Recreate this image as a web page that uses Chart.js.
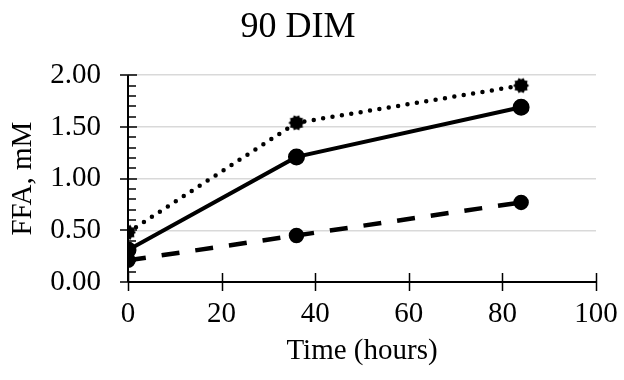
<!DOCTYPE html>
<html>
<head>
<meta charset="utf-8">
<script src="https://cdn.jsdelivr.net/npm/chart.js@4"></script>
<style>
  html, body { margin: 0; padding: 0; background: #fff; }
  #wrap { width: 624px; height: 380px; }
</style>
</head>
<body>
<div id="wrap"><canvas id="chart" width="624" height="380"></canvas></div>
<script>
const hours = [0, 36, 84];
const dottedSeries = [0.48, 1.54, 1.90];
const solidSeries = [0.31, 1.21, 1.69];
const dashedSeries = [0.21, 0.45, 0.77];
const xTicks = [0, 20, 40, 60, 80, 100];
const yTicks = [0, 0.5, 1.0, 1.5, 2.0];

const toPoints = vals => vals.map((v, i) => ({ x: hours[i], y: v }));

// star-burst marker used by the dotted series
function starMarker(r) {
  const size = r * 2 + 2;
  const c = document.createElement('canvas');
  c.width = size; c.height = size;
  const g = c.getContext('2d');
  const n = 10;
  g.beginPath();
  for (let i = 0; i < n * 2; i++) {
    const rad = i % 2 === 0 ? r : r * 0.78;
    const a = (Math.PI * i) / n;
    g.lineTo(size / 2 + rad * Math.cos(a), size / 2 + rad * Math.sin(a));
  }
  g.closePath();
  g.fillStyle = '#000';
  g.fill();
  return c;
}

// Excel style axes: cross major ticks, inside minor ticks on y
const axesPlugin = {
  id: 'axes',
  beforeDatasetsDraw(chart) {
    const { ctx, chartArea: a, scales: { x, y } } = chart;
    ctx.save();
    ctx.strokeStyle = '#000';
    ctx.lineWidth = 1.5;
    ctx.beginPath();
    for (const t of xTicks) {
      const px = Math.round(x.getPixelForValue(t)) + 0.5;
      ctx.moveTo(px, a.bottom - 9);
      ctx.lineTo(px, a.bottom + 9);
    }
    for (const t of yTicks) {
      const py = Math.round(y.getPixelForValue(t));
      ctx.moveTo(a.left - 8, py);
      ctx.lineTo(a.left + 9, py);
    }
    for (let i = 1; i < 20; i++) {
      if (i % 5 === 0) continue;
      const py = Math.round(y.getPixelForValue(i / 10));
      ctx.moveTo(a.left, py);
      ctx.lineTo(a.left + 8, py);
    }
    ctx.stroke();
    ctx.lineWidth = 2;
    ctx.beginPath();
    ctx.moveTo(a.left, a.bottom);
    ctx.lineTo(a.right, a.bottom);
    ctx.moveTo(a.left, a.top);
    ctx.lineTo(a.left, a.bottom);
    ctx.stroke();
    ctx.restore();
  }
};

Chart.defaults.font.family = "'Liberation Serif', 'Times New Roman', serif";
Chart.defaults.color = '#000';

new Chart(document.getElementById('chart'), {
  type: 'line',
  data: {
    datasets: [
      {
        data: toPoints(dashedSeries),
        borderColor: '#000',
        backgroundColor: '#000',
        borderWidth: 4.5,
        borderDash: [18, 16],
        pointRadius: 5.5,
        pointStyle: 'circle'
      },
      {
        data: toPoints(solidSeries),
        borderColor: '#000',
        backgroundColor: '#000',
        borderWidth: 4,
        pointRadius: 6.5,
        pointStyle: 'circle'
      },
      {
        data: toPoints(dottedSeries),
        borderColor: '#000',
        backgroundColor: '#000',
        borderWidth: 4.5,
        borderDash: [0, 9.5],
        borderCapStyle: 'round',
        pointStyle: starMarker(8)
      }
    ]
  },
  options: {
    responsive: false,
    animation: false,
    layout: { padding: { left: 0, right: 28, top: 0, bottom: 0 } },
    plugins: {
      legend: { display: false },
      tooltip: { enabled: false },
      title: {
        display: true,
        text: '90 DIM',
        font: { size: 36, weight: 'normal' },
        padding: { top: 6, bottom: 26 }
      }
    },
    scales: {
      x: {
        type: 'linear',
        min: 0,
        max: 100,
        afterFit: s => { s.height = 98; s.paddingLeft = 0; s.paddingRight = 0; },
        afterBuildTicks: s => { s.ticks = xTicks.map(v => ({ value: v })); },
        ticks: { font: { size: 29 }, padding: 7, maxRotation: 0 },
        grid: { display: false },
        border: { display: false },
        title: {
          display: true,
          text: 'Time (hours)',
          font: { size: 29 },
          padding: { top: 0, bottom: 11 }
        }
      },
      y: {
        min: 0,
        max: 2,
        afterFit: s => { s.width = 128; s.paddingTop = 0; s.paddingBottom = 0; },
        afterBuildTicks: s => { s.ticks = yTicks.map(v => ({ value: v })); },
        ticks: { font: { size: 29 }, padding: 27, callback: v => v.toFixed(2) },
        grid: { color: '#d9d9d9', lineWidth: 1.5, drawTicks: false },
        border: { display: false },
        title: {
          display: true,
          text: 'FFA, mM',
          font: { size: 29 },
          padding: { top: 6, bottom: 0 }
        }
      }
    }
  },
  plugins: [axesPlugin]
});
</script>
</body>
</html>
